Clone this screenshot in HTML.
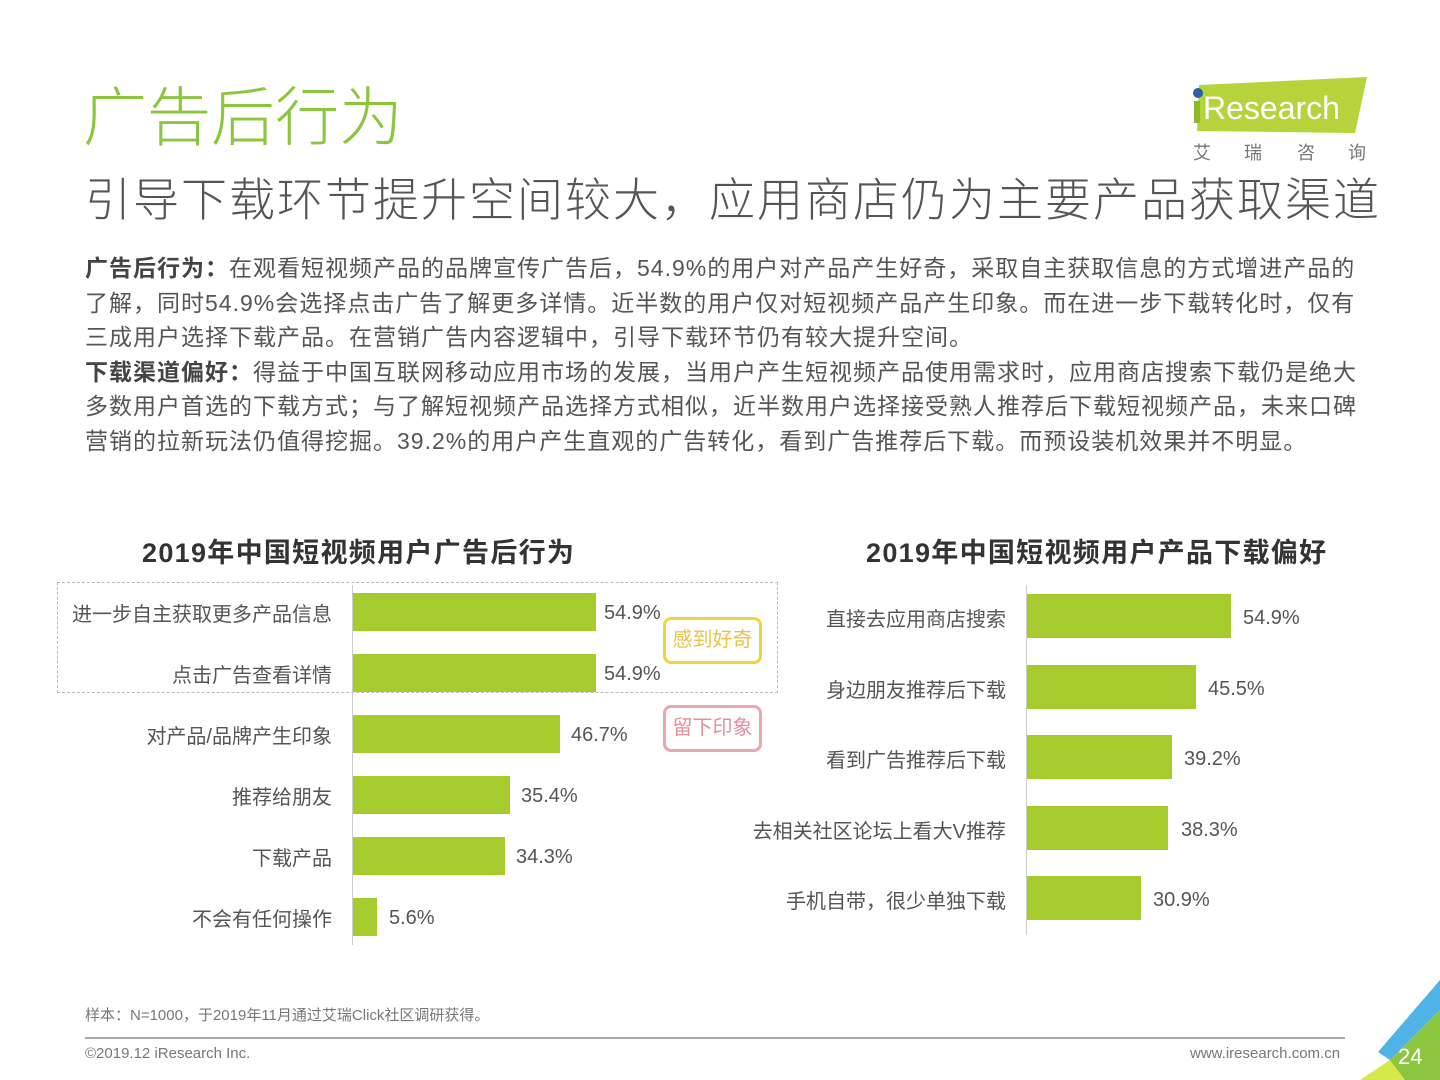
<!DOCTYPE html>
<html><head><meta charset="utf-8"><style>
*{margin:0;padding:0;box-sizing:border-box}
body{width:1440px;height:1080px;background:#fff;position:relative;overflow:hidden;font-family:"Liberation Sans","Noto Sans CJK SC",sans-serif;color:#555}
.a{position:absolute;white-space:nowrap}
.body{font-size:23px;color:#555;left:85px;line-height:34.6px;letter-spacing:1px}
.bar{position:absolute;background:#a5cc2c}
.lbl{position:absolute;font-size:20px;color:#555;text-align:right;white-space:nowrap}
.val{position:absolute;font-size:20px;color:#555;white-space:nowrap}
</style></head><body>
<div class="a" style="left:83px;top:78px;font-size:64px;color:#8cc63f;font-weight:300;line-height:80px">广告后行为</div>
<div class="a" style="left:85px;top:170px;font-size:46px;color:#555;line-height:60px;font-weight:300;letter-spacing:2px">引导下载环节提升空间较大，应用商店仍为主要产品获取渠道</div>
<svg class="a" style="left:1185px;top:75px" width="190" height="95">
<polygon points="14,10 182,2 170,58 12,56" fill="#b5d33a"/>
<circle cx="13" cy="18" r="5" fill="#2b5fa8"/>
<rect x="9" y="26" width="6" height="22" fill="#8aba2a"/>
<text x="18" y="44" font-family="Liberation Sans" font-size="32" fill="#fff">Research</text>
<text x="8" y="84" font-family="Noto Sans CJK SC" font-size="18" fill="#777">艾</text>
<text x="59" y="84" font-family="Noto Sans CJK SC" font-size="18" fill="#777">瑞</text>
<text x="112" y="84" font-family="Noto Sans CJK SC" font-size="18" fill="#777">咨</text>
<text x="163" y="84" font-family="Noto Sans CJK SC" font-size="18" fill="#777">询</text>
</svg>
<div class="a body" style="top:251px"><b style="color:#444">广告后行为：</b>在观看短视频产品的品牌宣传广告后，54.9%的用户对产品产生好奇，采取自主获取信息的方式增进产品的<br>了解，同时54.9%会选择点击广告了解更多详情。近半数的用户仅对短视频产品产生印象。而在进一步下载转化时，仅有<br>三成用户选择下载产品。在营销广告内容逻辑中，引导下载环节仍有较大提升空间。<br><b style="color:#444">下载渠道偏好：</b>得益于中国互联网移动应用市场的发展，当用户产生短视频产品使用需求时，应用商店搜索下载仍是绝大<br>多数用户首选的下载方式；与了解短视频产品选择方式相似，近半数用户选择接受熟人推荐后下载短视频产品，未来口碑<br>营销的拉新玩法仍值得挖掘。39.2%的用户产生直观的广告转化，看到广告推荐后下载。而预设装机效果并不明显。</div>

<div class="a" style="left:142px;top:531px;font-size:27px;font-weight:bold;color:#333;letter-spacing:1.3px">2019年中国短视频用户广告后行为</div>
<div class="a" style="left:866px;top:531px;font-size:27px;font-weight:bold;color:#333;letter-spacing:1.3px">2019年中国短视频用户产品下载偏好</div>

<div class="a" style="left:57px;top:582px;width:721px;height:111px;border:1px dashed #bbb"></div>
<div class="a" style="left:352px;top:585px;width:1px;height:360px;background:#ccc"></div>
<div class="bar" style="left:353px;top:593px;width:243px;height:38px"></div>
<div class="bar" style="left:353px;top:654px;width:243px;height:38px"></div>
<div class="bar" style="left:353px;top:715px;width:207px;height:38px"></div>
<div class="bar" style="left:353px;top:776px;width:157px;height:38px"></div>
<div class="bar" style="left:353px;top:837px;width:152px;height:38px"></div>
<div class="bar" style="left:353px;top:898px;width:24px;height:38px"></div>
<div class="lbl" style="right:1108px;top:598px">进一步自主获取更多产品信息</div>
<div class="lbl" style="right:1108px;top:659px">点击广告查看详情</div>
<div class="lbl" style="right:1108px;top:720px">对产品/品牌产生印象</div>
<div class="lbl" style="right:1108px;top:781px">推荐给朋友</div>
<div class="lbl" style="right:1108px;top:842px">下载产品</div>
<div class="lbl" style="right:1108px;top:903px">不会有任何操作</div>
<div class="val" style="left:604px;top:602px">54.9%</div>
<div class="val" style="left:604px;top:663px">54.9%</div>
<div class="val" style="left:571px;top:724px">46.7%</div>
<div class="val" style="left:521px;top:785px">35.4%</div>
<div class="val" style="left:516px;top:846px">34.3%</div>
<div class="val" style="left:389px;top:907px">5.6%</div>
<div class="a" style="left:663px;top:617px;width:99px;height:47px;border:3px solid #f2d33a;border-radius:8px;color:#eac24a;font-size:20px;text-align:center;line-height:41px">感到好奇</div>
<div class="a" style="left:663px;top:705px;width:99px;height:47px;border:3px solid #eba6b0;border-radius:8px;color:#e48f9c;font-size:20px;text-align:center;line-height:41px">留下印象</div>

<div class="a" style="left:1026px;top:585px;width:1px;height:350px;background:#ccc"></div>
<div class="bar" style="left:1027px;top:594px;width:204px;height:44px"></div>
<div class="bar" style="left:1027px;top:665px;width:169px;height:44px"></div>
<div class="bar" style="left:1027px;top:735px;width:145px;height:44px"></div>
<div class="bar" style="left:1027px;top:806px;width:141px;height:44px"></div>
<div class="bar" style="left:1027px;top:876px;width:114px;height:44px"></div>
<div class="lbl" style="right:434px;top:603px">直接去应用商店搜索</div>
<div class="lbl" style="right:434px;top:674px">身边朋友推荐后下载</div>
<div class="lbl" style="right:434px;top:744px">看到广告推荐后下载</div>
<div class="lbl" style="right:434px;top:815px">去相关社区论坛上看大V推荐</div>
<div class="lbl" style="right:434px;top:885px">手机自带，很少单独下载</div>
<div class="val" style="left:1243px;top:607px">54.9%</div>
<div class="val" style="left:1208px;top:678px">45.5%</div>
<div class="val" style="left:1184px;top:748px">39.2%</div>
<div class="val" style="left:1181px;top:819px">38.3%</div>
<div class="val" style="left:1153px;top:889px">30.9%</div>

<div class="a" style="left:85px;top:1004px;font-size:15px;color:#777">样本：N=1000，于2019年11月通过艾瑞Click社区调研获得。</div>
<div class="a" style="left:85px;top:1037px;width:1260px;height:2px;background:#aaa"></div>
<div class="a" style="left:85px;top:1045px;font-size:15px;color:#777">©2019.12 iResearch Inc.</div>
<div class="a" style="left:1190px;top:1045px;font-size:15px;color:#777">www.iresearch.com.cn</div>
<svg class="a" style="left:1360px;top:980px" width="80" height="100">
<polygon points="80,0 80,30 30,80 18,72" fill="#4fb3e8"/>
<polygon points="80,30 80,100 10,100 30,80" fill="#8cc63f"/>
<polygon points="0,100 30,80 45,100" fill="#d6e84a"/>
<text x="38" y="84" font-family="Liberation Sans" font-size="22" fill="#fff">24</text>
</svg>
</body></html>
